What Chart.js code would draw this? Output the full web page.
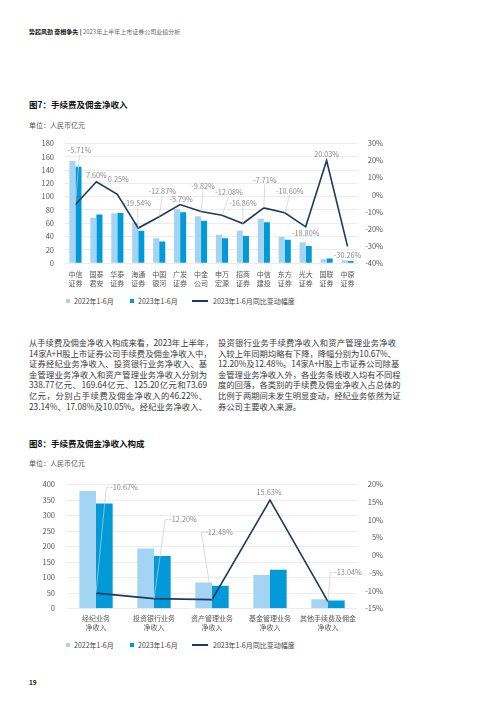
<!DOCTYPE html>
<html lang="zh-CN">
<head>
<meta charset="utf-8">
<script src="https://cdn.jsdelivr.net/npm/chart.js@4.4.1/dist/chart.umd.min.js"></script>
<style>
  html, body { margin: 0; padding: 0; background: #fff; }
  body { width: 500px; height: 707px; position: relative; overflow: hidden;
         font-family: "Noto Sans CJK SC", "Noto Sans", sans-serif; color: #333; }
  .abs { position: absolute; white-space: nowrap; }
  .head { left: 29px; top: 28px; font-size: 6px; line-height: 8px; }
  .head b { color: #111; }
  .head span { color: #666; }
  .title { left: 29px; font-size: 8.5px; line-height: 12px; font-weight: bold; color: #111; }
  .unit { left: 29px; font-size: 7px; line-height: 10px; color: #555; }
  .col { position: absolute; width: 178px; font-size: 8.3px; color: #3a3a3a; }
  .col div { height: 10.6px; line-height: 10.6px; text-align: justify; text-align-last: justify; white-space: nowrap; }
  .col div.last { text-align-last: left; }
  .chartbox { position: absolute; left: 20px; width: 380px; }
  .legend { position: absolute; left: 0; font-size: 7px; line-height: 10px; color: #444; }
  .legend .it { position: absolute; top: 0; white-space: nowrap; }
  .legend .sw { position: absolute; }
  .pageno { left: 29px; top: 677px; font-size: 6.5px; line-height: 10px; color: #222; font-weight: bold; }
</style>
</head>
<body>

<div class="abs head"><b>势起风劲 奋楫争先</b> <b>|</b> <span>2023年上半年上市证券公司业绩分析</span></div>

<div class="abs title" style="top:98px">图7：手续费及佣金净收入</div>
<div class="abs unit" style="top:120px">单位：人民币亿元</div>
<div class="chartbox" style="top:128px;height:162px"><canvas id="chart7"></canvas></div>
<div class="legend" id="legend7" style="top:296px"></div>

<div class="col" style="left:29px;top:337px">
  <div>从手续费及佣金净收入构成来看，2023年上半年，</div>
  <div>14家A+H股上市证券公司手续费及佣金净收入中，</div>
  <div>证券经纪业务净收入、投资银行业务净收入、基</div>
  <div>金管理业务净收入和资产管理业务净收入分别为</div>
  <div>338.77亿元、169.64亿元、125.20亿元和73.69</div>
  <div>亿元，分别占手续费及佣金净收入的46.22%、</div>
  <div>23.14%、17.08%及10.05%。经纪业务净收入、</div>
</div>
<div class="col" style="left:218px;top:337px">
  <div>投资银行业务手续费净收入和资产管理业务净收</div>
  <div>入较上年同期均略有下降，降幅分别为10.67%、</div>
  <div>12.20%及12.48%。14家A+H股上市证券公司除基</div>
  <div>金管理业务净收入外，各业务条线收入均有不同程</div>
  <div>度的回落，各类别的手续费及佣金净收入占总体的</div>
  <div>比例于两期间未发生明显变动，经纪业务依然为证</div>
  <div class="last">券公司主要收入来源。</div>
</div>

<div class="abs title" style="top:437px">图8：手续费及佣金净收入构成</div>
<div class="abs unit" style="top:458px">单位：人民币亿元</div>
<div class="chartbox" style="top:468px;height:170px"><canvas id="chart8"></canvas></div>
<div class="legend" id="legend8" style="top:640px"></div>

<div class="abs pageno">19</div>

<script>
// ---- 图7 data
const brokers = [
    ['中信', '证券'], ['国泰', '君安'], ['华泰', '证券'], ['海通', '证券'], ['中国', '银河'],
    ['广发', '证券'], ['中金', '公司'], ['申万', '宏源'], ['招商', '证券'], ['中信', '建投'],
    ['东方', '证券'], ['光大', '证券'], ['国联', '证券'], ['中原', '证券']
];
const fee2022 = [153.6, 68.0, 75.0, 60.5, 37.2, 81.0, 70.5, 42.5, 48.7, 66.6, 39.1, 31.4, 5.5, 4.2];
const fee2023 = [144.8, 73.2, 75.2, 48.7, 32.4, 76.3, 63.6, 37.4, 40.5, 61.5, 35.0, 25.5, 6.6, 2.9];
const feeYoY = [-5.71, 7.60, 0.25, -19.54, -12.87, -5.79, -9.82, -12.08, -16.86, -7.71, -10.60, -18.80, 20.03, -30.26];

// ---- 图8 data
const bizLines = [
    ['经纪业务', '净收入'], ['投资银行业务', '净收入'], ['资产管理业务', '净收入'],
    ['基金管理业务', '净收入'], ['其他手续费及佣金', '净收入']
];
const biz2022 = [379.2, 193.2, 84.2, 108.3, 29.6];
const biz2023 = [338.77, 169.64, 73.69, 125.20, 25.7];
const bizYoY = [-10.67, -12.20, -12.48, 15.63, -13.04];

const seriesNames = ['2022年1-6月', '2023年1-6月', '2023年1-6月同比变动幅度'];

// label placement (px offsets from the point) and whether a leader line is drawn
const labels7 = [[4, -54, 1], [0, -7, 0], [1, -15, 0], [-1, -25, 1], [3, -25, 1], [1, -5, 0], [2, -25, 1],
                 [7, -23, 1], [0, -20, 1], [1, -28, 1], [5, -22, 1], [0, 6, 0], [0, -6, 0], [0, 9, 0]];
const labels8 = [[28, -106, 1], [29, -79, 1], [7, -67, 1], [-1, -8, 0], [20, -29, 1]];

const COL_LIGHT = '#a3d4f3';
const COL_DARK = '#009ad9';
const COL_LINE = '#1b3a5f';
const FONT = '"Noto Sans CJK SC", "Noto Sans", sans-serif';

const leaderLabels = {
    id: 'leaderLabels',
    afterDatasetsDraw(chart, args, opts) {
        const meta = chart.getDatasetMeta(2);
        const values = chart.data.datasets[2].data;
        const ctx = chart.ctx;
        ctx.save();
        ctx.font = '7.3px ' + FONT;
        ctx.textAlign = 'center';
        ctx.textBaseline = 'middle';
        meta.data.forEach((pt, i) => {
            const [dx, dy, lead] = opts.place[i];
            const text = values[i].toFixed(2) + '%';
            const lx = pt.x + dx, ly = pt.y + dy;
            const w = ctx.measureText(text).width;
            if (lead) {
                ctx.strokeStyle = '#cccccc';
                ctx.lineWidth = 0.7;
                ctx.beginPath();
                ctx.moveTo(pt.x, pt.y);
                if (opts.mode === 'left') {
                    ctx.lineTo(lx - w / 2 - 4, ly);
                    ctx.lineTo(lx - w / 2 - 1, ly);
                } else {
                    ctx.lineTo(lx, ly + 4.5);
                }
                ctx.stroke();
            }
            ctx.fillStyle = '#8a8a8a';
            ctx.fillText(text, lx, ly);
        });
        ctx.restore();
    }
};

function makeChart(id, cats, d22, d23, yoy, cfg) {
    const ctx = document.getElementById(id).getContext('2d');
    return new Chart(ctx, {
        type: 'bar',
        data: {
            labels: cats,
            datasets: [
                { label: seriesNames[0], data: d22, backgroundColor: COL_LIGHT, yAxisID: 'y', order: 1,
                  categoryPercentage: cfg.catPct, barPercentage: 1.0 },
                { label: seriesNames[1], data: d23, backgroundColor: COL_DARK, yAxisID: 'y', order: 1,
                  categoryPercentage: cfg.catPct, barPercentage: 1.0 },
                { type: 'line', label: seriesNames[2], data: yoy, borderColor: COL_LINE, borderWidth: 1.6,
                  pointRadius: 0, tension: 0, fill: false, yAxisID: 'y1', order: 0 }
            ]
        },
        options: {
            responsive: true,
            maintainAspectRatio: false,
            animation: false,
            layout: { padding: { top: cfg.top, right: cfg.padRight, left: 0, bottom: 0 } },
            plugins: {
                legend: { display: false },
                tooltip: { enabled: false },
                leaderLabels: { place: cfg.place, mode: cfg.mode }
            },
            scales: {
                x: {
                    grid: { display: false, drawTicks: false },
                    border: { display: false },
                    ticks: { color: '#555', font: { family: FONT, size: 7, lineHeight: 1.35 },
                             padding: cfg.xPad, maxRotation: 0, autoSkip: false },
                    afterFit: s => { s.height = cfg.xHeight; }
                },
                y: {
                    position: 'left',
                    min: cfg.yMin, max: cfg.yMax,
                    ticks: { stepSize: cfg.yStep, color: '#555', font: { family: FONT, size: 7.5 }, padding: cfg.yPad },
                    grid: { color: '#e4e4e4', lineWidth: 0.7, drawTicks: false },
                    border: { display: false },
                    afterFit: s => { s.width = cfg.yWidth; }
                },
                y1: {
                    position: 'right',
                    min: cfg.pMin, max: cfg.pMax,
                    ticks: { stepSize: cfg.pStep, color: '#555', font: { family: FONT, size: 7.5 },
                             crossAlign: 'far', callback: v => v + '%' },
                    grid: { display: false, drawTicks: false },
                    border: { display: false },
                    afterFit: s => { s.width = cfg.pWidth; }
                }
            }
        },
        plugins: [leaderLabels]
    });
}

function makeLegend(id) {
    const el = document.getElementById(id);
    const items = [
        { x: 66, sw: `<span class="sw" style="left:0;top:3px;width:4px;height:4px;background:${COL_LIGHT}"></span>`, tx: 8 },
        { x: 130, sw: `<span class="sw" style="left:0;top:3px;width:4px;height:4px;background:${COL_DARK}"></span>`, tx: 8 },
        { x: 192, sw: `<span class="sw" style="left:0;top:4px;width:16px;height:1.6px;background:${COL_LINE}"></span>`, tx: 21 }
    ];
    el.innerHTML = items.map((it, i) =>
        `<div class="it" style="left:${it.x}px">${it.sw}<span style="position:absolute;left:${it.tx}px;top:0">${seriesNames[i]}</span></div>`
    ).join('');
}

makeChart('chart7', brokers, fee2022, fee2023, feeYoY, {
    catPct: 0.58, top: 10, padRight: 17, xPad: 6.5, xHeight: 27,
    yMin: 0, yMax: 180, yStep: 20, yPad: 11, yWidth: 45,
    pMin: -40, pMax: 30, pStep: 10, pWidth: 25,
    place: labels7, mode: 'bottom'
});

makeChart('chart8', bizLines, biz2022, biz2023, bizYoY, {
    catPct: 0.575, top: 9.5, padRight: 17, xPad: 5, xHeight: 29.5,
    yMin: 0, yMax: 400, yStep: 50, yPad: 12, yWidth: 47,
    pMin: -15, pMax: 20, pStep: 5, pWidth: 26,
    place: labels8, mode: 'left'
});

makeLegend('legend7');
makeLegend('legend8');
</script>
</body>
</html>
